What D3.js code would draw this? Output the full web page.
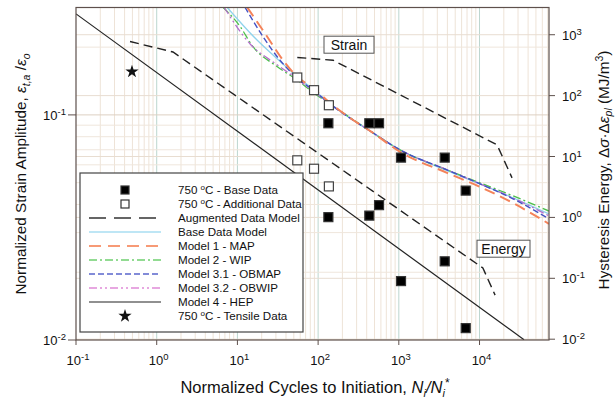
<!DOCTYPE html>
<html>
<head>
<meta charset="utf-8">
<script src="https://cdn.jsdelivr.net/npm/d3@7"></script>
<style>
  body { margin: 0; background: #fff; }
  svg { font-family: "Liberation Sans", Arial, sans-serif; }
</style>
</head>
<body>
<svg id="chart" width="616" height="400"></svg>
<script>
// Data: [N_i/N_i*, value]
const baseStrain = [[134, 0.0918], [431, 0.0918], [569, 0.0918], [1065, 0.0646], [3705, 0.0646], [6745, 0.0461]];
const baseEnergy = [[134, 1.01], [431, 1.07], [569, 1.59], [1065, 0.09], [3705, 0.19], [6745, 0.0152]];
const addStrain = [[55.2, 0.1466], [89, 0.1288], [136, 0.1104]];
const addEnergy = [[55.2, 8.66], [89, 6.3], [136, 3.23]];
const tensile = [[0.494, 0.1556]];

const augStrain = [[55.2, 0.18], [153, 0.175], [16500, 0.0736], [25300, 0.0525]];
const augEnergy = [[0.467, 773], [1.59, 521], [11000, 0.148], [15600, 0.053]];
const hepEnergy = [[0.1, 2200], [35600, 0.0098]];

const baseModel = [[7.43, 0.301], [17.5, 0.215], [33.7, 0.173], [54.8, 0.148], [89, 0.129], [140, 0.112],
  [479, 0.0832], [1035, 0.0699], [3955, 0.0566], [10140, 0.0494], [26000, 0.0428], [72600, 0.0363]];
const model1 = [[13.2, 0.301], [23.3, 0.223], [36.7, 0.175], [54.8, 0.148], [89, 0.1306], [140, 0.113],
  [248, 0.097], [479, 0.0832], [1035, 0.0685], [3955, 0.0553], [10140, 0.0479], [26000, 0.0406], [72600, 0.0328]];
const model2 = [[6.63, 0.301], [10.8, 0.247], [15.6, 0.201], [31, 0.164], [54.8, 0.143], [89, 0.125], [140, 0.112],
  [479, 0.0832], [1035, 0.0699], [3955, 0.057], [10140, 0.0499], [26000, 0.0437], [72600, 0.0374]];
const model31 = [[12.4, 0.301], [20.7, 0.223], [33.7, 0.175], [54.8, 0.146], [89, 0.128], [140, 0.112],
  [479, 0.0832], [1035, 0.0699], [3955, 0.057], [10140, 0.0494], [26000, 0.0424], [72600, 0.0345]];
const model32 = [[6.82, 0.301], [14.3, 0.207], [31, 0.167], [54.8, 0.1445], [89, 0.1266], [140, 0.112],
  [479, 0.0832], [1035, 0.0699], [3955, 0.057], [10140, 0.0494], [26000, 0.0428], [72600, 0.0356]];

const xTickExp = [-1, 0, 1, 2, 3, 4];
const yLeftExp = [-2, -1];
const yRightExp = [-2, -1, 0, 1, 2, 3];

const legendLabels = [
  '750 |C - Base Data', '750 |C - Additional Data', 'Augmented Data Model', 'Base Data Model',
  'Model 1 - MAP', 'Model 2 - WIP', 'Model 3.1 - OBMAP', 'Model 3.2 - OBWIP', 'Model 4 - HEP',
  '750 |C - Tensile Data',
];

const svg = d3.select('#chart');
const L = 76, R = 549, T = 7.5, B = 340;

const x = d3.scaleLog().domain([0.1, 72600]).range([L, R]);
const yL = d3.scaleLog().domain([0.01, 0.3]).range([B, T]);
const yR = d3.scaleLog().domain([0.0097, 2800]).range([B, T]);

svg.append('defs').append('clipPath').attr('id', 'clip')
  .append('rect').attr('x', L).attr('y', T).attr('width', R - L).attr('height', B - T);

svg.append('rect').attr('x', L).attr('y', T).attr('width', R - L).attr('height', B - T).attr('fill', '#fff');

// grid
const grid = svg.append('g').attr('clip-path', 'url(#clip)');
const isDecade = (v) => Math.abs(Math.log10(v) - Math.round(Math.log10(v))) < 1e-6;
grid.selectAll('line.vx')
  .data(x.ticks().filter((v) => v > 0.1))
  .join('line')
  .attr('x1', (d) => x(d)).attr('x2', (d) => x(d))
  .attr('y1', T).attr('y2', B)
  .attr('stroke', (d) => (isDecade(d) ? '#bcd6cf' : '#eee3d7'))
  .attr('stroke-width', 1);
grid.selectAll('line.hy')
  .data(yL.ticks())
  .join('line')
  .attr('x1', L).attr('x2', R)
  .attr('y1', (d) => yL(d)).attr('y2', (d) => yL(d))
  .attr('stroke', (d) => (isDecade(d) ? '#ddd0c2' : '#efe6dc'))
  .attr('stroke-width', 1);
grid.selectAll('line.hr')
  .data(yRightExp.map((e) => 10 ** e))
  .join('line')
  .attr('x1', L).attr('x2', R)
  .attr('y1', (d) => yR(d)).attr('y2', (d) => yR(d))
  .attr('stroke', '#e8ddd1')
  .attr('stroke-width', 1);

const plot = svg.append('g').attr('clip-path', 'url(#clip)');
const lineL = d3.line().x((d) => x(d[0])).y((d) => yL(d[1]));
const lineR = d3.line().x((d) => x(d[0])).y((d) => yR(d[1]));
const curveL = d3.line().x((d) => x(d[0])).y((d) => yL(d[1])).curve(d3.curveMonotoneX);

const series = [
  { data: baseModel, color: '#8fd3ec', dash: null, w: 1.3 },
  { data: model2, color: '#4cbf4c', dash: '8,3,2,3', w: 1.3 },
  { data: model32, color: '#b46fcc', dash: '8,3,2,3,2,3', w: 1.3 },
  { data: model31, color: '#4452c4', dash: '6,3', w: 1.4 },
  { data: model1, color: '#f4835a', dash: '11,6', w: 2 },
];
series.forEach((s) => {
  plot.append('path').attr('d', curveL(s.data)).attr('fill', 'none')
    .attr('stroke', s.color).attr('stroke-width', s.w).attr('stroke-dasharray', s.dash);
});

plot.append('path').attr('d', lineL(augStrain)).attr('fill', 'none')
  .attr('stroke', '#222').attr('stroke-width', 1.4).attr('stroke-dasharray', '9,5');
plot.append('path').attr('d', lineR(augEnergy)).attr('fill', 'none')
  .attr('stroke', '#222').attr('stroke-width', 1.4).attr('stroke-dasharray', '9,5');
plot.append('path').attr('d', lineR(hepEnergy)).attr('fill', 'none')
  .attr('stroke', '#222').attr('stroke-width', 1.2);

function squares(data, yScale, filled) {
  plot.selectAll(null).data(data).join('rect')
    .attr('x', (d) => x(d[0]) - 4.5).attr('y', (d) => yScale(d[1]) - 4.5)
    .attr('width', 9).attr('height', 9)
    .attr('fill', filled ? '#000' : '#fff')
    .attr('stroke', filled ? '#333' : '#444').attr('stroke-width', 1.2);
}
squares(baseStrain, yL, true);
squares(baseEnergy, yR, true);
squares(addStrain, yL, false);
squares(addEnergy, yR, false);

const star = d3.symbol().type(d3.symbolStar).size(55);
plot.selectAll(null).data(tensile).join('path')
  .attr('d', star).attr('transform', (d) => `translate(${x(d[0])},${yL(d[1])})`).attr('fill', '#111');

// frame
svg.append('rect').attr('x', L).attr('y', T).attr('width', R - L).attr('height', B - T)
  .attr('fill', 'none').attr('stroke', '#5e504c').attr('stroke-width', 1.2);

// tick labels as 10^n
function powLabel(sel, e) {
  sel.append('tspan').text('10');
  sel.append('tspan').attr('dy', -5).attr('font-size', 9.5).text(e < 0 ? '-' + -e : e);
}
const ticksG = svg.append('g').attr('fill', '#111').attr('font-size', 13);
xTickExp.forEach((e) => {
  const px = x(10 ** e);
  svg.append('line').attr('x1', px).attr('x2', px).attr('y1', B).attr('y2', B + 5).attr('stroke', '#5e504c');
  ticksG.append('text').attr('x', px + 2).attr('y', B + 25).attr('text-anchor', 'middle').call(powLabel, e);
});
yLeftExp.forEach((e) => {
  const py = yL(10 ** e);
  svg.append('line').attr('x1', L - 8).attr('x2', L).attr('y1', py).attr('y2', py).attr('stroke', '#5e504c');
  ticksG.append('text').attr('x', L - 10).attr('y', py + 5).attr('text-anchor', 'end').call(powLabel, e);
});
yRightExp.forEach((e) => {
  const py = yR(10 ** e);
  svg.append('line').attr('x1', R).attr('x2', R + 6).attr('y1', py).attr('y2', py).attr('stroke', '#5e504c');
  ticksG.append('text').attr('x', R + 13).attr('y', py + 5).attr('text-anchor', 'start').call(powLabel, e);
});

// axis titles
const xt = svg.append('text').attr('x', 315).attr('y', 393).attr('text-anchor', 'middle')
  .attr('font-size', 16.5).attr('fill', '#111');
xt.append('tspan').text('Normalized Cycles to Initiation, ');
xt.append('tspan').attr('font-style', 'italic').text('N');
xt.append('tspan').attr('font-size', 11).attr('font-style', 'italic').attr('dy', 4).text('i');
xt.append('tspan').attr('font-style', 'italic').attr('dy', -4).text('/N');
xt.append('tspan').attr('font-size', 11).attr('font-style', 'italic').attr('dy', 4).text('i');
xt.append('tspan').attr('font-size', 12).attr('dy', -10).text('*');

const ylt = svg.append('text').attr('transform', 'translate(26,174) rotate(-90)')
  .attr('text-anchor', 'middle').attr('font-size', 15.3).attr('fill', '#111');
ylt.append('tspan').text('Normalized Strain Amplitude, ');
ylt.append('tspan').attr('font-style', 'italic').text('ε');
ylt.append('tspan').attr('font-size', 10.5).attr('font-style', 'italic').attr('dy', 4).text('t,a');
ylt.append('tspan').attr('dy', -4).text(' /');
ylt.append('tspan').attr('font-style', 'italic').text('ε');
ylt.append('tspan').attr('font-size', 10.5).attr('font-style', 'italic').attr('dy', 4).text('o');

const yrt = svg.append('text').attr('transform', 'translate(609,170) rotate(-90)')
  .attr('text-anchor', 'middle').attr('font-size', 15.3).attr('fill', '#111');
yrt.append('tspan').text('Hysteresis Energy, Δ');
yrt.append('tspan').attr('font-style', 'italic').text('σ');
yrt.append('tspan').text('·Δ');
yrt.append('tspan').attr('font-style', 'italic').text('ε');
yrt.append('tspan').attr('font-size', 10.5).attr('font-style', 'italic').attr('dy', 3).text('pl');
yrt.append('tspan').attr('dy', -3).text(' (MJ/m');
yrt.append('tspan').attr('font-size', 10.5).attr('dy', -6).text('3');
yrt.append('tspan').attr('dy', 6).text(')');

// boxed labels
function boxLabel(cx, cy, w, h, label) {
  svg.append('rect').attr('x', cx - w / 2).attr('y', cy - h / 2).attr('width', w).attr('height', h)
    .attr('fill', '#fff').attr('stroke', '#555').attr('stroke-width', 1);
  svg.append('text').attr('x', cx).attr('y', cy + 5).attr('text-anchor', 'middle')
    .attr('font-size', 14).attr('fill', '#111').text(label);
}
boxLabel(349, 44.7, 50, 17, 'Strain');
boxLabel(503.5, 248.7, 53, 17, 'Energy');

// legend
const lg = svg.append('g');
lg.append('rect').attr('x', 80).attr('y', 173).attr('width', 223).attr('height', 159)
  .attr('fill', '#fff').attr('stroke', '#444').attr('stroke-width', 1.2);
const rowY = (i) => 190 + i * 14;
const lx1 = 89, lx2 = 161, mx = 125;
const legendStyles = [
  { type: 'sq', fill: '#000' },
  { type: 'sq', fill: '#fff' },
  { type: 'line', color: '#333', dash: '17,8', w: 1.3 },
  { type: 'line', color: '#a9def2', dash: null, w: 1.6 },
  { type: 'line', color: '#f79a76', dash: '12,7', w: 2 },
  { type: 'line', color: '#6fd06f', dash: '8,3,2,3', w: 1.3 },
  { type: 'line', color: '#5a66cc', dash: '6,3', w: 1.4 },
  { type: 'line', color: '#e08ad8', dash: '8,3,2,3,2,3', w: 1.6 },
  { type: 'line', color: '#222', dash: null, w: 1.2 },
  { type: 'star' },
];
legendLabels.forEach((label, i) => {
  const st = legendStyles[i];
  const y0 = rowY(i);
  if (st.type === 'sq') {
    lg.append('rect').attr('x', mx - 4).attr('y', y0 - 4).attr('width', 8).attr('height', 8)
      .attr('fill', st.fill).attr('stroke', '#333').attr('stroke-width', 1.2);
  } else if (st.type === 'line') {
    lg.append('line').attr('x1', lx1).attr('x2', lx2).attr('y1', y0).attr('y2', y0)
      .attr('stroke', st.color).attr('stroke-width', st.w).attr('stroke-dasharray', st.dash);
  } else {
    lg.append('path').attr('d', star).attr('transform', `translate(${mx},${y0})`).attr('fill', '#111');
  }
  const t = lg.append('text').attr('x', 178).attr('y', y0 + 4).attr('font-size', 11.6).attr('fill', '#111');
  const parts = label.split('|');
  t.append('tspan').text(parts[0]);
  if (parts.length > 1) {
    t.append('tspan').attr('font-size', 8).attr('dy', -4).text('o');
    t.append('tspan').attr('dy', 4).text(parts[1]);
  }
});
</script>
</body>
</html>
